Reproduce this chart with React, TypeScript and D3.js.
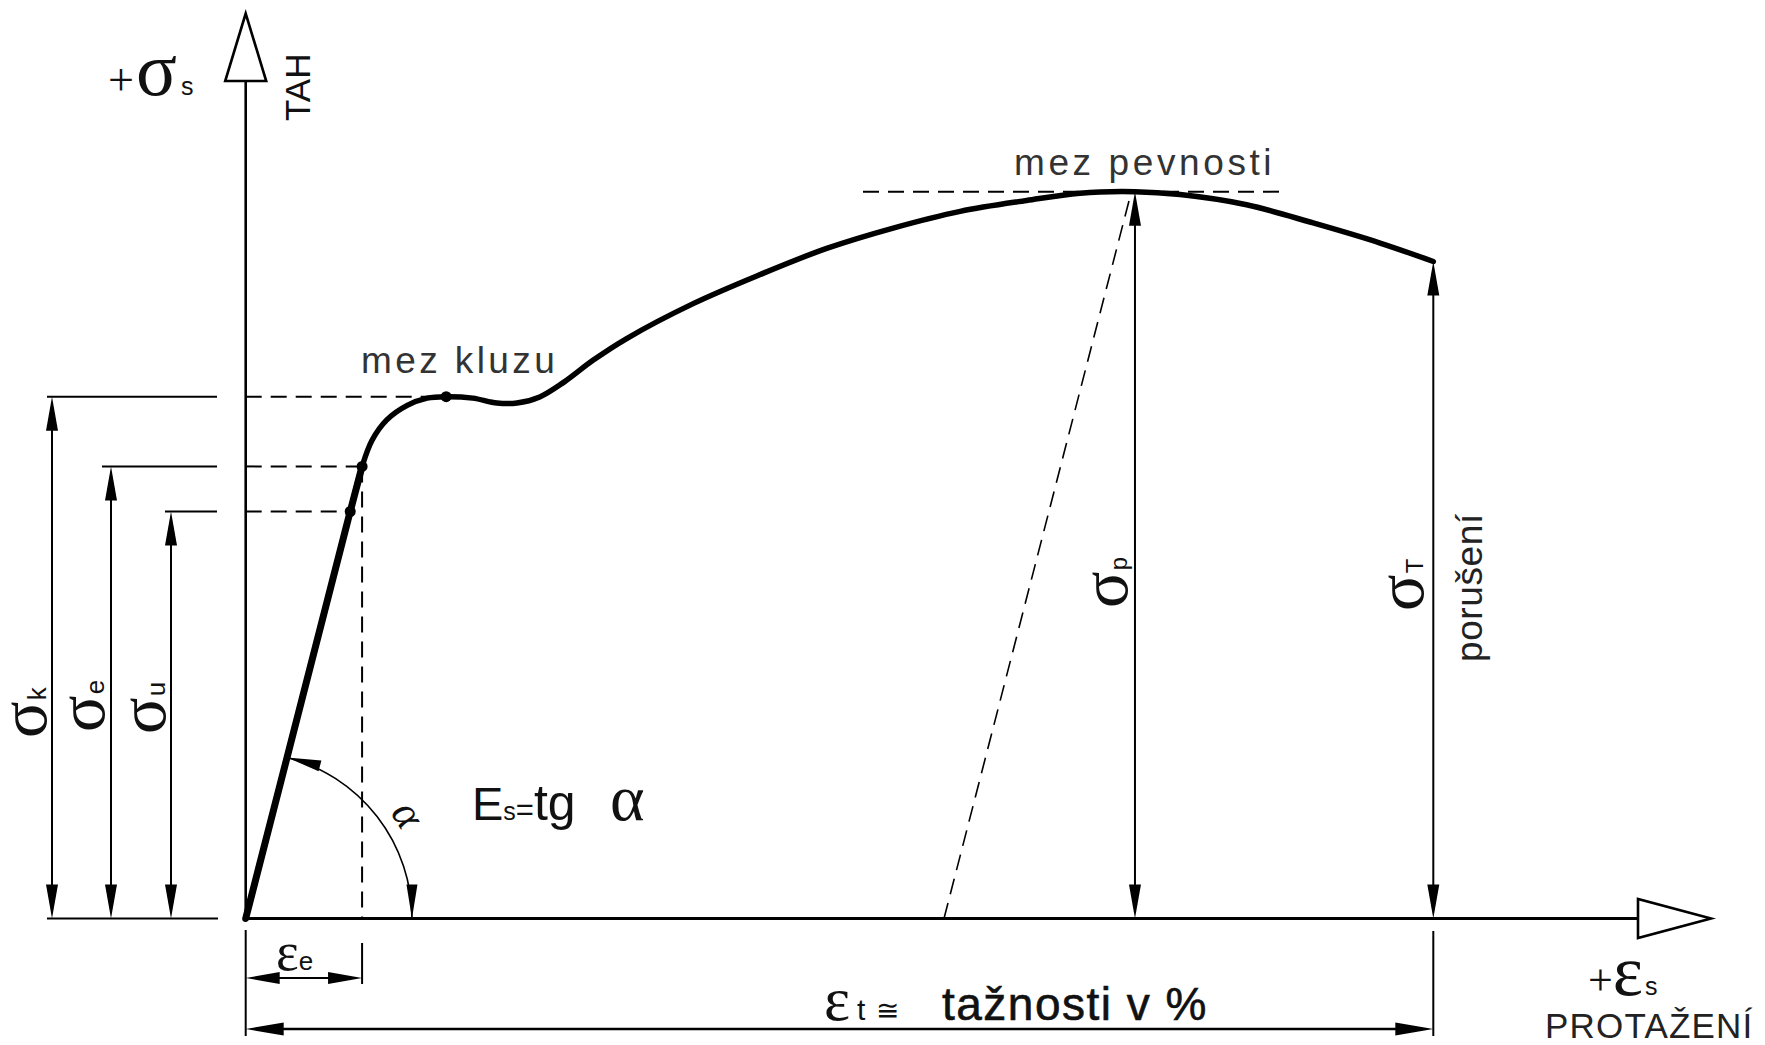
import React from "react";
import * as d3 from "d3";

const W = 1765;
const H = 1045;

// Tensile test of mild steel: strain in %, stress in MPa
const curveStrain = [0, 2.2, 2.45, 2.66, 2.97, 3.4, 3.82, 4.22, 4.78, 5.29, 5.71, 6.19, 6.7, 7.31, 8.02, 9.42, 10.83, 12.23, 13.63, 15.04, 16.44, 17.56, 18.72, 19.67, 21.07, 22.47, 23.88, 25];
const curveStress = [0, 280, 311, 329, 343, 353, 358, 359, 358, 354.6, 354.6, 358.8, 369, 384, 399, 423, 443, 461, 475, 486.5, 494, 499, 500, 498, 491, 478.5, 464.7, 452];

// characteristic limits: yield (k), elastic (e), proportional (u)
const limitKeys = ["k", "e", "u"];
const limitStress = [359, 311, 280];
const limitStrain = [4.22, 2.45, 2.2];

const ultimateStrain = 18.72; // mez pevnosti
const ultimateStress = 500;
const ruptureStrain = 25; // porušení
const ruptureStress = 452;
const elasticStrain = 2.45; // ε_e
const unloadStrain = [14.7, 18.62];
const unloadStress = [0, 497];
const alphaArcStrain = 3.5;

const SANS = "'Liberation Sans', Arial, sans-serif";
const SERIF = "'Liberation Serif', 'Times New Roman', serif";

function head(tx: number, ty: number, ang: number, len = 34, w = 12) {
  const bx = tx - len * Math.cos(ang);
  const by = ty - len * Math.sin(ang);
  const px = (-Math.sin(ang) * w) / 2;
  const py = (Math.cos(ang) * w) / 2;
  return `${tx},${ty} ${bx + px},${by + py} ${bx - px},${by - py}`;
}

const UP = -Math.PI / 2;
const DOWN = Math.PI / 2;
const LEFT = Math.PI;
const RIGHT = 0;

function VDim({ x, y1, y2 }: { x: number; y1: number; y2: number }) {
  return (
    <g>
      <line x1={x} x2={x} y1={y1 + 20} y2={y2 - 20} stroke="#000" strokeWidth={2} />
      <polygon points={head(x, y1, UP)} fill="#000" />
      <polygon points={head(x, y2, DOWN)} fill="#000" />
    </g>
  );
}

function RotSigma({ x, y, sub, subSize = 26 }: { x: number; y: number; sub: string; subSize?: number }) {
  return (
    <text transform={`translate(${x},${y}) rotate(-90)`} fill="#111">
      <tspan fontFamily={SERIF} fontSize={68}>σ</tspan>
      <tspan fontFamily={SANS} fontSize={subSize} dx={1}>{sub}</tspan>
    </text>
  );
}

export default function App() {
  const x = d3.scaleLinear().domain([0, 25]).range([245.7, 1433.3]);
  const y = d3.scaleLinear().domain([0, 500]).range([918.5, 191.7]);
  const x0 = x(0);
  const y0 = y(0);

  const pts: [number, number][] = curveStrain.map((e, i) => [e, curveStress[i]]);
  const curve = d3
    .line<[number, number]>()
    .x((d) => x(d[0]))
    .y((d) => y(d[1]))
    .curve(d3.curveCatmullRom.alpha(0.5));
  const straight = d3
    .line<[number, number]>()
    .x((d) => x(d[0]))
    .y((d) => y(d[1]));
  const elasticPts = pts.slice(0, 3);

  // angle arc for E = tg α
  const r = x(alphaArcStrain) - x0;
  const th = Math.atan2(y(limitStress[2]) - y0, x(limitStrain[2]) - x0);
  const sx = x0 + r * Math.cos(th);
  const sy = y0 + r * Math.sin(th);
  const arcPath = `M${sx},${sy} A${r},${r} 0 0 1 ${x0 + r},${y0}`;
  const startDir = Math.atan2(-Math.cos(th), Math.sin(th));

  const leftArrowX = [52, 111, 171];
  const leftLineStart = [47, 102, 165];
  const leftLineEnd = 217;

  const xAxisEnd = 1638;
  const yAxisTop = 81;
  const dimY = 1029;
  const eDimY = 978;

  return (
    <svg width={W} height={H} style={{ position: "absolute", left: 0, top: 0, background: "#fff" }}>
      <rect width={W} height={H} fill="#fff" />

      {/* axes */}
      <line x1={x0} x2={x0} y1={y0 + 1} y2={yAxisTop} stroke="#000" strokeWidth={2.6} />
      <polygon points={`${x0},13.5 ${x0 - 20.5},${yAxisTop} ${x0 + 20.5},${yAxisTop}`} fill="#fff" stroke="#000" strokeWidth={2.6} />
      <line x1={x0 - 2} x2={xAxisEnd} y1={y0} y2={y0} stroke="#000" strokeWidth={3} />
      <polygon points={`1711,${y0} ${xAxisEnd},${y0 - 19.5} ${xAxisEnd},${y0 + 19.5}`} fill="#fff" stroke="#000" strokeWidth={2.6} />

      {/* left reference lines and limit dimensions */}
      <line x1={leftLineStart[0]} x2={leftLineEnd + 1} y1={y0} y2={y0} stroke="#000" strokeWidth={2} />
      {limitStress.map((s, i) => (
        <g key={limitKeys[i]}>
          <line x1={leftLineStart[i]} x2={leftLineEnd} y1={y(s)} y2={y(s)} stroke="#000" strokeWidth={2} />
          <line x1={x0} x2={x(limitStrain[i])} y1={y(s)} y2={y(s)} stroke="#000" strokeWidth={2} strokeDasharray="16 9" />
          <VDim x={leftArrowX[i]} y1={y(s)} y2={y0} />
        </g>
      ))}
      <RotSigma x={46} y={738} sub="k" />
      <RotSigma x={104} y={732} sub="e" />
      <RotSigma x={165} y={734} sub="u" />

      {/* ε_e guide */}
      <line x1={x(elasticStrain)} x2={x(elasticStrain)} y1={y(limitStress[1])} y2={y0} stroke="#000" strokeWidth={2} strokeDasharray="16 9" />

      {/* unloading line */}
      <line x1={x(unloadStrain[0])} y1={y(unloadStress[0])} x2={x(unloadStrain[1])} y2={y(unloadStress[1])} stroke="#000" strokeWidth={1.6} strokeDasharray="16 9" />

      {/* ultimate strength level */}
      <line x1={863} x2={1282} y1={y(ultimateStress)} y2={y(ultimateStress)} stroke="#000" strokeWidth={2} strokeDasharray="16 9" />

      {/* σp and σT dimensions */}
      <VDim x={x(ultimateStrain)} y1={y(ultimateStress)} y2={y0} />
      <VDim x={x(ruptureStrain)} y1={y(ruptureStress)} y2={y0} />
      <RotSigma x={1127} y={608} sub="p" subSize={24} />
      <RotSigma x={1423} y={611} sub="T" subSize={24} />
      <text transform={`translate(1482,662) rotate(-90)`} fontFamily={SANS} fontSize={37} fill="#222" letterSpacing={0.6}>
        porušení
      </text>

      {/* stress-strain curve */}
      <path d={curve(pts) ?? ""} fill="none" stroke="#000" strokeWidth={5.5} strokeLinejoin="round" strokeLinecap="round" />
      <path d={straight(elasticPts) ?? ""} fill="none" stroke="#000" strokeWidth={7} strokeLinecap="round" />
      {limitStress.map((s, i) => (
        <circle key={"m" + limitKeys[i]} cx={x(limitStrain[i])} cy={y(s)} r={5.5} fill="#000" />
      ))}

      {/* angle α */}
      <path d={arcPath} fill="none" stroke="#000" strokeWidth={1.6} />
      <polygon points={head(sx, sy, startDir, 34, 11)} fill="#000" />
      <polygon points={head(x0 + r, y0, DOWN, 34, 11)} fill="#000" />
      <text transform="translate(396,822) rotate(58)" fontFamily={SERIF} fontStyle="italic" fontSize={44} textAnchor="middle" fill="#111">
        α
      </text>
      <text x={472} y={820} fill="#111">
        <tspan fontFamily={SANS} fontSize={47}>E</tspan>
        <tspan fontFamily={SANS} fontSize={25}>s</tspan>
        <tspan fontFamily={SANS} fontSize={31}>=</tspan>
        <tspan fontFamily={SANS} fontSize={50}>tg</tspan>
        <tspan fontFamily={SERIF} fontSize={66} x={610}>α</tspan>
      </text>

      {/* ε_e dimension */}
      <line x1={x0} x2={x0} y1={930} y2={1036} stroke="#000" strokeWidth={2} />
      <line x1={x(elasticStrain)} x2={x(elasticStrain)} y1={943} y2={984} stroke="#000" strokeWidth={2} />
      <line x1={x0 + 20} x2={x(elasticStrain) - 20} y1={eDimY} y2={eDimY} stroke="#000" strokeWidth={2} />
      <polygon points={head(x0, eDimY, LEFT)} fill="#000" />
      <polygon points={head(x(elasticStrain), eDimY, RIGHT)} fill="#000" />
      <text x={276} y={970} fill="#111">
        <tspan fontFamily={SERIF} fontSize={54}>ε</tspan>
        <tspan fontFamily={SANS} fontSize={26}>e</tspan>
      </text>

      {/* ε_t dimension */}
      <line x1={x(ruptureStrain)} x2={x(ruptureStrain)} y1={931} y2={1036} stroke="#000" strokeWidth={2} />
      <line x1={x0 + 20} x2={x(ruptureStrain) - 20} y1={dimY} y2={dimY} stroke="#000" strokeWidth={2.4} />
      <polygon points={head(x0, dimY, LEFT, 38, 13)} fill="#000" />
      <polygon points={head(x(ruptureStrain), dimY, RIGHT, 38, 13)} fill="#000" />
      <text y={1020} fill="#111">
        <tspan x={824} fontFamily={SERIF} fontSize={62}>ε</tspan>
        <tspan x={857} fontFamily={SANS} fontSize={30}>t</tspan>
        <tspan x={876} fontFamily="'DejaVu Sans', sans-serif" fontSize={28}>≅</tspan>
        <tspan x={942} fontFamily={SANS} fontSize={46} letterSpacing={1.5} stroke="#111" strokeWidth={0.6}>tažnosti v %</tspan>
      </text>

      {/* axis titles */}
      <text y={95} fill="#111">
        <tspan x={108} fontFamily={SERIF} fontSize={46}>+</tspan>
        <tspan fontFamily={SERIF} fontSize={76} dx={2}>σ</tspan>
        <tspan fontFamily={SANS} fontSize={25} dx={4}>s</tspan>
      </text>
      <text transform="translate(310,121) rotate(-90)" fontFamily={SANS} fontSize={35} fill="#111">
        TAH
      </text>
      <text y={995} fill="#111">
        <tspan x={1588} fontFamily={SERIF} fontSize={44}>+</tspan>
        <tspan fontFamily={SERIF} fontSize={72}>ε</tspan>
        <tspan fontFamily={SANS} fontSize={25} dx={2}>s</tspan>
      </text>
      <text x={1545} y={1038} fontFamily={SANS} fontSize={35} letterSpacing={1.2} fill="#222">
        PROTAŽENÍ
      </text>

      {/* annotations */}
      <text x={361} y={373} fontFamily={SANS} fontSize={37} letterSpacing={3.4} fill="#333">
        mez kluzu
      </text>
      <text x={1014} y={175} fontFamily={SANS} fontSize={37} letterSpacing={3.6} fill="#333">
        mez pevnosti
      </text>
    </svg>
  );
}
